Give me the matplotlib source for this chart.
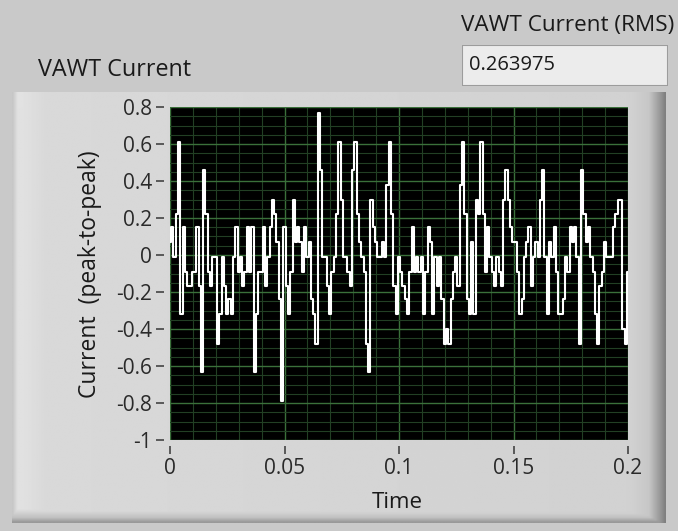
import numpy as np
import matplotlib.pyplot as plt
from matplotlib.patches import Rectangle
from matplotlib.ticker import MultipleLocator

plt.rcParams['font.family'] = ['Open Sans', 'DejaVu Sans']

# waveform, one sample per ms
dt = 0.001
current = [
    0.07, 0.15, -0.01, 0.22, 0.61, -0.32, 0.15, -0.09, -0.17, -0.17,
    -0.09, -0.09, 0.15, -0.17, -0.63, 0.46, 0.22, -0.09, -0.17, -0.01,
    -0.01, -0.48, -0.32, -0.01, -0.17, -0.32, -0.24, -0.32, -0.01, 0.15,
    -0.09, -0.01, -0.17, -0.09, 0.15, -0.09, 0.15, -0.63, -0.32, -0.09,
    -0.09, 0.15, -0.17, -0.01, 0.15, 0.30, 0.22, 0.07, -0.24, -0.79,
    0.15, -0.17, -0.32, -0.09, 0.30, 0.07, 0.15, 0.07, -0.09, 0.15,
    -0.01, 0.07, -0.24, -0.32, -0.48, 0.77, 0.46, -0.01, -0.01, -0.17,
    -0.32, -0.09, -0.01, 0.22, 0.61, 0.30, -0.01, -0.01, -0.09, -0.17,
    0.46, 0.61, 0.22, 0.07, -0.01, -0.09, -0.48, -0.63, 0.30, 0.15,
    0.07, -0.01, -0.01, 0.07, -0.01, 0.38, 0.61, 0.22, -0.17, -0.32,
    -0.01, -0.09, -0.17, -0.24, -0.32, -0.09, 0.15, -0.09, -0.01, -0.09,
    -0.01, -0.32, -0.09, 0.15, 0.07, -0.32, -0.01, -0.17, -0.01, -0.24,
    -0.48, -0.40, -0.48, -0.24, -0.09, -0.01, -0.17, 0.38, 0.61, 0.22,
    -0.24, -0.32, 0.07, -0.32, 0.30, 0.22, 0.61, 0.22, -0.09, 0.15,
    -0.01, -0.09, -0.17, -0.01, -0.09, -0.17, 0.30, 0.46, 0.30, 0.15,
    0.07, 0.07, -0.09, -0.32, -0.24, -0.01, 0.07, 0.15, -0.17, -0.01,
    0.07, -0.01, 0.30, 0.46, -0.01, -0.32, 0.07, -0.01, 0.15, -0.09,
    -0.32, -0.32, -0.24, -0.01, -0.09, 0.15, 0.07, 0.15, -0.01, -0.48,
    0.46, 0.22, 0.07, 0.15, -0.01, -0.09, -0.32, -0.48, -0.17, -0.09,
    0.07, -0.01, -0.01, -0.01, 0.15, 0.22, 0.30, 0.30, -0.40, -0.48,
    -0.09,
]
rms_text = "0.263975"
x_ticks = [0, 0.05, 0.1, 0.15, 0.2]
x_labels = ["0", "0.05", "0.1", "0.15", "0.2"]
y_ticks = [-1, -0.8, -0.6, -0.4, -0.2, 0, 0.2, 0.4, 0.6, 0.8]
y_labels = ["-1", "-0.8", "-0.6", "-0.4", "-0.2", "0", "0.2", "0.4", "0.6", "0.8"]

W, H = 678, 531
fig = plt.figure(figsize=(W / 100, H / 100), dpi=100)
fig.patch.set_facecolor('#c9c9c9')


def box(x0, y0, x1, y1):
    # pixel box (top-left origin) -> figure rect
    return [x0 / W, 1 - y1 / H, (x1 - x0) / W, (y1 - y0) / H]


# graph frame with a bit of bevel shading
frame = fig.add_axes(box(12, 92, 666, 523))
cols = np.linspace(0, 1, 400)
col_shade = np.interp(cols, [0, 0.008, 0.05, 0.95, 0.975, 0.99, 1.0],
                      [0.78, 0.89, 0.85, 0.82, 0.78, 0.62, 0.50])
rows = np.linspace(0, 1, 200)
row_shade = np.interp(rows, [0, 0.01, 0.04, 0.97, 0.99, 1.0],
                      [0.92, 0.88, 0.83, 0.83, 0.70, 0.55])
shade = np.minimum(col_shade[None, :], row_shade[:, None] + 0.05)
frame.imshow(shade, cmap='gray', vmin=0, vmax=1, aspect='auto',
             interpolation='bilinear')
frame.axis('off')

# labels and numeric indicator
fig.text(38 / W, 1 - 70 / H, "VAWT Current", fontsize=16.8, color='#1a1a1a',
         va='center', ha='left')
fig.text(461 / W, 1 - 25 / H, "VAWT Current (RMS)", fontsize=16.2,
         color='#1a1a1a', va='center', ha='left')
ind = fig.add_axes(box(462, 45, 668, 86))
ind.add_patch(Rectangle((0, 0), 1, 1, transform=ind.transAxes,
                        facecolor='#ececec', edgecolor='#9c9c9c', lw=1.5))
ind.axis('off')
ind.text(0.035, 0.5, rms_text, fontsize=14.5, color='#1a1a1a', va='center',
         ha='left', transform=ind.transAxes)

# plot area
ax = fig.add_axes(box(170, 107, 628, 440))
ax.set_facecolor('black')
t = np.arange(len(current)) * dt
ax.step(t, current, where='mid', color='white', lw=1.5, zorder=3)
ax.set_xlim(0, 0.2)
ax.set_ylim(-1, 0.8)

ax.set_xticks(x_ticks, labels=x_labels)
ax.set_yticks(y_ticks, labels=y_labels)
ax.xaxis.set_minor_locator(MultipleLocator(0.01))
ax.yaxis.set_minor_locator(MultipleLocator(0.05))
ax.grid(which='major', color='#3a703a', lw=1.0)
ax.grid(which='minor', color='#223f24', lw=0.8)
ax.set_axisbelow(True)

for s in ax.spines.values():
    s.set_visible(False)
ax.spines['left'].set_position(('outward', 4))
ax.spines['bottom'].set_position(('outward', 4))
ax.tick_params(which='major', direction='out', length=6, width=1.2,
               color='#444444', labelsize=15, labelcolor='#2a2a2a', pad=3)
ax.tick_params(which='minor', length=0)

ax.set_xlabel("Time", fontsize=16, color='#1a1a1a')
ax.xaxis.set_label_coords(397 / W, 1 - 503 / H, transform=fig.transFigure)
ax.xaxis.label.set_va('center')
ax.set_ylabel("Current  (peak-to-peak)", fontsize=16.5, color='#1a1a1a')
ax.yaxis.set_label_coords(90 / W, 1 - 274 / H, transform=fig.transFigure)
ax.yaxis.label.set_va('center')

fig.savefig("out.png", dpi=100, facecolor=fig.get_facecolor())
